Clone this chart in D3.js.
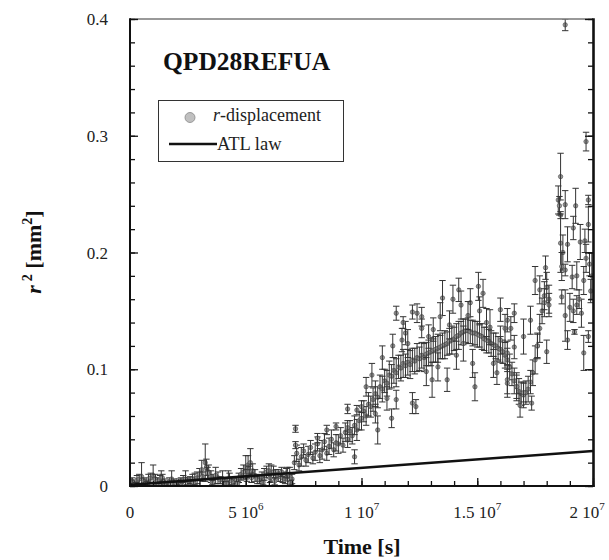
<!DOCTYPE html>
<html>
<head>
<meta charset="utf-8">
<script src="https://cdn.jsdelivr.net/npm/d3@7"></script>
<style>
body{margin:0;background:#fff;}
svg{display:block;font-family:"Liberation Serif","Times New Roman",serif;}
</style>
</head>
<body>
<svg id="chart" width="609" height="560"></svg>
<script>
// [time (10^6 s), r^2 (mm^2), half error]
const earlyPoints = [
 [0.0,.003,.003],[0.1,.004,.003],[0.2,.002,.003],[0.3,.005,.004],[0.4,.006,.004],[0.5,.008,.012],
 [0.6,.004,.003],[0.7,.003,.003],[0.8,.006,.004],[0.9,.007,.004],[1.0,.009,.009],[1.1,.006,.004],
 [1.2,.004,.003],[1.3,.005,.004],[1.35,.007,.006],[1.4,.007,.003],[1.5,.003,.003],[1.6,.002,.002],
 [1.7,.004,.003],[1.8,.006,.007],[1.9,.003,.003],[2.0,.002,.002],[2.1,.003,.003],[2.2,.004,.003],
 [2.3,.005,.004],[2.4,.006,.007],[2.5,.004,.003],[2.6,.005,.003],[2.7,.006,.004],[2.8,.006,.005],
 [2.9,.007,.005],[3.0,.010,.005],[3.1,.014,.008],[3.25,.020,.016],[3.3,.016,.007],[3.4,.012,.006],
 [3.5,.008,.005],[3.6,.006,.004],[3.7,.009,.007],[3.8,.007,.005],[3.9,.005,.003],[4.0,.006,.007],
 [4.1,.004,.003],[4.25,.006,.007],[4.3,.006,.005],[4.4,.004,.003],[4.5,.003,.003],[4.6,.005,.003],
 [4.7,.007,.004],[4.8,.010,.005],[4.9,.012,.006],[5.0,.016,.010],[5.1,.018,.008],[5.2,.020,.012],
 [5.3,.013,.006],[5.4,.009,.005],[5.5,.006,.004],[5.6,.005,.003],[5.7,.008,.004],[5.8,.010,.005],
 [5.9,.012,.005],[6.0,.013,.006],[6.1,.011,.007],[6.2,.012,.005],[6.3,.010,.004],[6.4,.009,.005],
 [6.5,.008,.004],[6.6,.007,.004],[6.7,.006,.004],[6.8,.008,.008],[6.9,.010,.006],[7.0,.006,.004],
 [0.25,.001,.002],[0.75,.002,.002],[1.25,.001,.002],[1.75,.002,.002],[2.25,.001,.002],[2.75,.003,.002],
 [3.15,.008,.004],[3.35,.011,.005],[3.55,.003,.002],[4.15,.002,.002],[4.65,.002,.002],[5.05,.009,.005],
 [5.15,.012,.005],[5.25,.007,.004],[5.75,.003,.002],[6.05,.007,.004],[6.25,.004,.003],[6.55,.012,.004],
 [6.75,.011,.004],[6.95,.003,.002]
];
const risePoints = [
 [7.1,.020,.006],[7.2,.028,.007],[7.3,.018,.005],[7.4,.025,.008],[7.5,.030,.006],[7.6,.022,.005],
 [7.7,.027,.007],[7.8,.033,.006],[7.9,.024,.005],[8.0,.029,.007],[8.1,.036,.006],[8.2,.026,.006],
 [8.3,.031,.008],[8.4,.038,.007],[8.5,.028,.006],[8.6,.034,.007],[8.7,.040,.008],[8.8,.031,.006],
 [8.9,.037,.007],[9.0,.036,.008],[9.1,.043,.007],[9.2,.035,.006],[9.3,.046,.008],[9.4,.040,.007],
 [9.5,.047,.009],[9.6,.043,.007],[9.7,.052,.008],[9.8,.048,.009],[9.9,.056,.008],[10.0,.058,.010],
 [10.1,.064,.009],[10.2,.060,.008],[10.3,.070,.010],[10.4,.068,.009],[10.5,.074,.010],[10.6,.079,.011],
 [10.7,.076,.009],[10.8,.085,.010],[10.9,.083,.011],[11.0,.090,.010],[11.1,.088,.011],[11.2,.095,.012],
 [11.3,.094,.010],[11.4,.099,.011],[11.5,.097,.012],[11.6,.102,.010],[11.7,.101,.011],[11.8,.105,.012],
 [11.9,.103,.010],[12.0,.106,.011],[12.1,.104,.012],[12.2,.108,.010],[12.3,.107,.011],[12.4,.110,.012],
 [12.5,.109,.010],[12.6,.112,.011],[12.7,.110,.012],[12.8,.113,.010],[12.9,.114,.011],[13.0,.115,.012],
 [13.1,.116,.010],[13.2,.117,.011],[13.3,.118,.012],[13.4,.119,.010],[13.5,.120,.011],[13.6,.121,.012],
 [13.7,.122,.010],[13.8,.124,.011],[13.9,.125,.012],[14.0,.126,.010],[14.1,.128,.011],[14.2,.129,.012],
 [14.3,.131,.010],[14.4,.132,.011],[14.5,.133,.010],[14.6,.133,.011],[14.7,.132,.010],[14.8,.131,.011],
 [14.9,.131,.010],[15.0,.130,.011],[15.1,.129,.010],[15.2,.128,.011],[15.3,.126,.010],[15.4,.125,.011],
 [15.5,.124,.010],[15.6,.122,.011],[15.7,.121,.010],[15.8,.120,.011],[15.9,.118,.010],[16.0,.117,.011],
 [16.1,.115,.010],[16.2,.112,.011],[16.3,.108,.010],[16.4,.102,.011],[16.5,.096,.010],[16.6,.090,.011],
 [16.7,.085,.010],[16.8,.081,.011],[16.9,.079,.010],[17.0,.078,.011],[17.1,.080,.010],[17.2,.083,.011],
 [17.3,.089,.010],[17.4,.097,.011],[17.5,.108,.012],[17.6,.120,.011],[17.7,.135,.012],[17.8,.150,.011],
 [17.9,.163,.012],[18.0,.170,.013],[18.1,.160,.012]
];
const scatterPoints = [
 [7.15,.049,.003],[7.15,.035,.003],[8.1,.041,.004],[8.5,.048,.004],[8.9,.051,.003],[9.4,.066,.004],
 [9.8,.065,.004],[9.4,.050,.006],[9.7,.025,.006],[10.2,.085,.008],[10.45,.095,.010],[10.7,.048,.012],
 [10.9,.110,.010],[11.3,.058,.008],[11.35,.120,.010],[11.5,.074,.008],[11.75,.125,.010],[12.2,.071,.009],
 [11.9,.131,.010],[11.8,.140,.005],[11.5,.148,.006],[12.4,.148,.008],[12.6,.135,.008],[12.35,.068,.006],
 [13.1,.134,.010],[13.05,.091,.015],[13.5,.161,.015],[13.4,.145,.012],[13.7,.091,.010],[13.95,.160,.012],
 [14.2,.168,.010],[14.3,.155,.012],[14.4,.122,.015],[14.7,.157,.012],[14.8,.105,.012],[15.05,.171,.012],
 [15.1,.150,.012],[15.25,.165,.012],[14.9,.085,.012],[15.55,.136,.015],[15.85,.097,.010],[16.0,.151,.010],
 [16.3,.088,.012],[16.2,.135,.012],[16.0,.125,.012],[12.2,.149,.006],[12.6,.145,.008],[10.0,.068,.005],
 [16.3,.142,.010],[16.6,.148,.008],[16.45,.135,.010],[16.3,.091,.012],[16.3,.114,.010],[16.6,.119,.010],
 [16.7,.085,.012],[16.85,.069,.010],[17.0,.128,.015],[17.0,.080,.008],[17.35,.071,.006],[17.3,.142,.012],
 [17.5,.176,.012],[17.6,.120,.010],[17.7,.168,.012],[17.95,.187,.010],[18.0,.115,.010],[17.9,.157,.012],
 [18.1,.155,.010],[12.0,.122,.012],[12.8,.098,.012],[13.3,.102,.012],[13.8,.138,.012],[14.1,.112,.012],
 [14.6,.146,.012],[15.4,.140,.012],[15.7,.105,.012],[12.9,.128,.010],[11.1,.075,.010],[10.6,.062,.008]
];
const lateCluster = [
 [18.6,.265,.020],[18.5,.245,.012],[18.6,.232,.003],[18.8,.241,.012],[19.25,.240,.015],[19.8,.245,.004],
 [18.6,.208,.025],[18.7,.200,.015],[18.9,.207,.015],[19.15,.221,.010],[19.45,.209,.015],[19.65,.210,.010],
 [19.8,.224,.015],[19.85,.190,.010],[18.65,.188,.012],[18.8,.185,.005],[19.1,.179,.010],[19.3,.180,.012],
 [19.6,.176,.012],[19.7,.195,.012],[18.65,.162,.006],[18.8,.146,.022],[19.0,.153,.012],[19.15,.150,.010],
 [19.3,.155,.008],[19.5,.148,.012],[19.4,.160,.008],[18.9,.125,.008],[19.2,.132,.002],[19.6,.114,.015],
 [19.8,.128,.005],[19.9,.167,.010],[19.95,.180,.020],[18.8,.395,.005],[19.7,.295,.008],[18.55,.240,.008]
];
const atlTime = [0, 20];
const atlR2 = [0.001, 0.030];
const xTickValues = [0, 5, 10, 15, 20];
const xTickBase = ["0", "5 10", "1 10", "1.5 10", "2 10"];
const xTickExp = ["", "6", "7", "7", "7"];
const yTickValues = [0, 0.1, 0.2, 0.3, 0.4];
const yTickLabels = ["0", "0.1", "0.2", "0.3", "0.4"];
const chartTitle = "QPD28REFUA";

const svg = d3.select("#chart");
const plotLeft = 130, plotRight = 593, plotTop = 19, plotBottom = 486;

const x = d3.scaleLinear().domain([0, 20]).range([plotLeft, plotRight]);
const y = d3.scaleLinear().domain([0, 0.4]).range([plotBottom, plotTop]);

svg.append("clipPath").attr("id", "plotclip")
	.append("rect").attr("x", plotLeft).attr("y", plotTop)
	.attr("width", plotRight - plotLeft).attr("height", plotBottom - plotTop);

const allPoints = earlyPoints.concat(risePoints, scatterPoints, lateCluster);

let plot = svg.append("g").attr("clip-path", "url(#plotclip)");

let pts = plot.selectAll("g.pt")
	.data(allPoints)
	.join("g")
	.attr("class", "pt");

pts.append("circle")
	.attr("cx", d => x(d[0]))
	.attr("cy", d => y(d[1]))
	.attr("r", 2.2)
	.attr("fill", "#9a9a9a")
	.attr("stroke", "#444")
	.attr("stroke-width", 0.6);

pts.append("path")
	.attr("d", d => {
		let cx = x(d[0]), y0 = y(d[1] - d[2]), y1 = y(d[1] + d[2]);
		return "M" + cx + "," + y0 + "V" + y1 +
			"M" + (cx - 3.2) + "," + y0 + "H" + (cx + 3.2) +
			"M" + (cx - 3.2) + "," + y1 + "H" + (cx + 3.2);
	})
	.attr("fill", "none")
	.attr("stroke", "#333")
	.attr("stroke-width", 1);

// ATL law line
let atlLine = d3.line()
	.x((d, i) => x(atlTime[i]))
	.y(d => y(d));
plot.append("path")
	.attr("d", atlLine(atlR2))
	.attr("fill", "none")
	.attr("stroke", "#111")
	.attr("stroke-width", 2.6);

// frame
svg.append("line").attr("x1", plotLeft).attr("x2", plotRight).attr("y1", plotTop).attr("y2", plotTop)
	.attr("stroke", "#777").attr("stroke-width", 1.5);
svg.append("line").attr("x1", plotLeft).attr("x2", plotLeft).attr("y1", plotTop - 0.7).attr("y2", plotBottom + 1)
	.attr("stroke", "#111").attr("stroke-width", 2);
svg.append("line").attr("x1", plotRight + 0.5).attr("x2", plotRight + 0.5).attr("y1", plotTop - 0.7).attr("y2", plotBottom + 1)
	.attr("stroke", "#111").attr("stroke-width", 2.6);
svg.append("line").attr("x1", plotLeft - 1).attr("x2", plotRight + 1.5).attr("y1", plotBottom).attr("y2", plotBottom)
	.attr("stroke", "#111").attr("stroke-width", 2);

// inward ticks
function tickAxis(axis, tr, size, vals){
	let g = svg.append("g").attr("transform", tr)
		.call(axis.tickValues(vals).tickSize(size).tickFormat(""));
	g.select(".domain").remove();
	g.selectAll(".tick line").attr("stroke", "#111").attr("stroke-width", 1.3);
}
tickAxis(d3.axisLeft(y), "translate(" + plotLeft + ",0)", -5, y.ticks(20));
tickAxis(d3.axisLeft(y), "translate(" + plotLeft + ",0)", -8, yTickValues);
tickAxis(d3.axisRight(y), "translate(" + plotRight + ",0)", -5, y.ticks(20));
tickAxis(d3.axisRight(y), "translate(" + plotRight + ",0)", -8, yTickValues);
tickAxis(d3.axisBottom(x), "translate(0," + plotBottom + ")", -5, x.ticks(20));
tickAxis(d3.axisBottom(x), "translate(0," + plotBottom + ")", -8, xTickValues);

// tick labels
svg.selectAll("text.ylab")
	.data(yTickValues)
	.join("text")
	.attr("class", "ylab")
	.attr("x", 108)
	.attr("y", d => y(d) + 6)
	.attr("text-anchor", "end")
	.attr("font-size", 17)
	.attr("fill", "#222")
	.text((d, i) => yTickLabels[i]);

let xl = svg.selectAll("text.xlab")
	.data(xTickValues)
	.join("text")
	.attr("class", "xlab")
	.attr("x", (d, i) => x(d) - (i == xTickValues.length - 1 ? 6 : 0))
	.attr("y", 518)
	.attr("text-anchor", "middle")
	.attr("font-size", 17)
	.attr("fill", "#222");
xl.append("tspan").text((d, i) => xTickBase[i]);
xl.append("tspan").attr("dy", -8).attr("font-size", 11).text((d, i) => xTickExp[i]);

// axis titles
svg.append("text")
	.attr("x", 362).attr("y", 554)
	.attr("text-anchor", "middle")
	.attr("font-size", 22).attr("font-weight", "bold")
	.attr("fill", "#111")
	.text("Time [s]");

let yt = svg.append("text")
	.attr("transform", "translate(41,252) rotate(-90)")
	.attr("text-anchor", "middle")
	.attr("font-size", 22).attr("font-weight", "bold")
	.attr("fill", "#111");
yt.append("tspan").attr("font-style", "italic").text("r");
yt.append("tspan").attr("dx", 4).attr("dy", -9).attr("font-size", 14).text("2");
yt.append("tspan").attr("dy", 9).text(" [mm");
yt.append("tspan").attr("dy", -9).attr("font-size", 14).text("2");
yt.append("tspan").attr("dy", 9).text("]");

// title
svg.append("text")
	.attr("x", 163).attr("y", 70)
	.attr("font-size", 25.5).attr("font-weight", "bold")
	.attr("fill", "#111")
	.text(chartTitle);

// legend
let lg = svg.append("g");
lg.append("rect")
	.attr("x", 158.5).attr("y", 100.5).attr("width", 185).attr("height", 61)
	.attr("fill", "#fff").attr("stroke", "#333").attr("stroke-width", 1);
lg.append("circle")
	.attr("cx", 190).attr("cy", 117.5).attr("r", 5)
	.attr("fill", "#c0c0c0").attr("stroke", "#888").attr("stroke-width", 0.8);
let lt = lg.append("text").attr("x", 213).attr("y", 121).attr("font-size", 18).attr("fill", "#222");
lt.append("tspan").attr("font-style", "italic").text("r");
lt.append("tspan").text("-displacement");
lg.append("line").attr("x1", 169).attr("x2", 217).attr("y1", 144).attr("y2", 144)
	.attr("stroke", "#111").attr("stroke-width", 2.6);
lg.append("text").attr("x", 217).attr("y", 150).attr("font-size", 18.5).attr("fill", "#222").text("ATL law");
</script>
</body>
</html>
